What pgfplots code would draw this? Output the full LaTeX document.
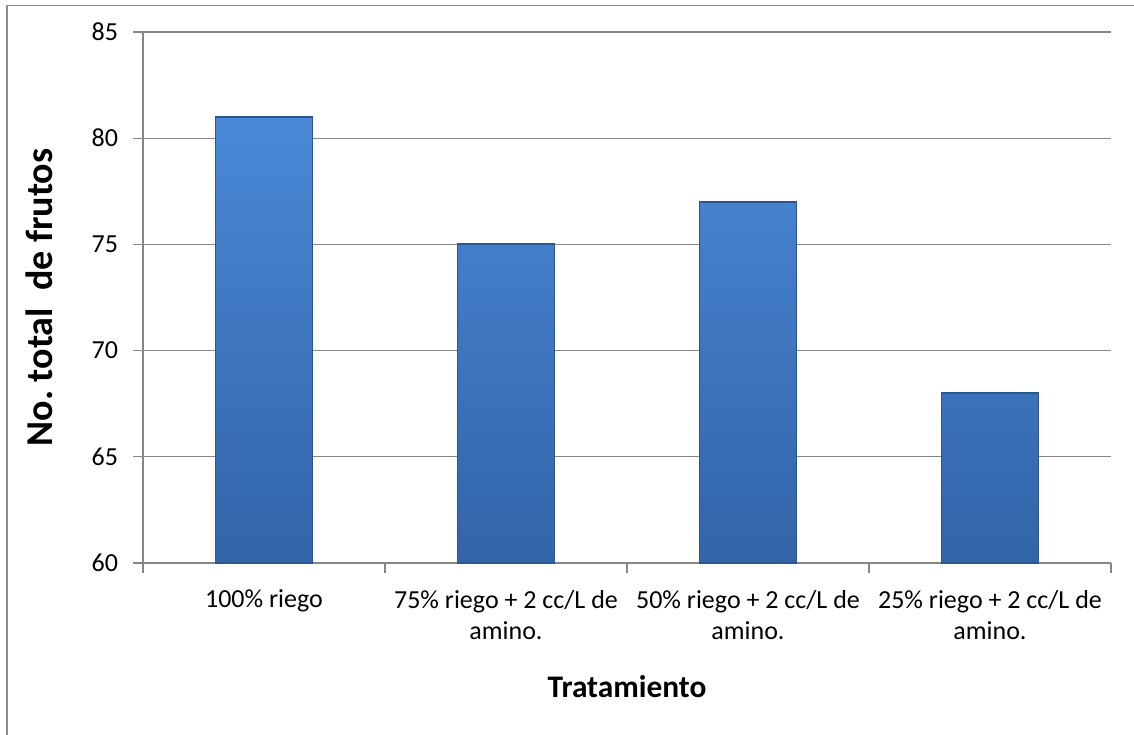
\documentclass[border=0pt]{standalone}
\usepackage{pgfplots}
\pgfplotsset{compat=1.18}
\usepackage{fontspec}
\setmainfont{Carlito}
\definecolor{gridgray}{RGB}{134,134,134}
\definecolor{framegray}{RGB}{140,140,140}
\definecolor{bartop}{RGB}{74,136,214}
\definecolor{barbot}{RGB}{50,100,168}
\definecolor{baredge}{RGB}{44,86,146}
\begin{document}
\begin{tikzpicture}
\useasboundingbox (0,0) rectangle (567pt,367pt);
\draw[framegray, line width=0.6pt] (3.5pt,-5pt) -- (3.5pt,364.3pt) -- (575pt,364.3pt);
\begin{axis}[
  at={(71.5pt,85.5pt)}, anchor=south west,
  scale only axis, width=484pt, height=265.5pt,
  xmin=0.5, xmax=4.5, ymin=0, ymax=25,
  y filter/.expression={y-60},
  ytick={0,5,...,25},
  yticklabels={60,65,70,75,80,85},
  xtick={1,2,3,4},
  xticklabels={100\% riego,{75\% riego + 2 cc/L de\\amino.},{50\% riego + 2 cc/L de\\amino.},{25\% riego + 2 cc/L de\\amino.}},
  minor xtick={0.5,1.5,2.5,3.5,4.5},
  axis x line*=bottom, axis y line*=left,
  axis line style={gridgray, line width=0.6pt, -},
  ymajorgrids, grid style={gridgray, line width=0.6pt},
  tick style={gridgray, line width=0.6pt},
  major x tick style={draw=none},
  tick align=outside,
  major tick length=5pt, minor tick length=5pt,
  /pgf/number format/assume math mode=true,
  yticklabel style={font=\fontsize{13}{16}\selectfont, text=black, anchor=east, xshift=-4pt},
  xticklabel style={font=\fontsize{13}{15.5}\selectfont, text=black, align=center, anchor=north, yshift=-5pt},
  xlabel={Tratamiento},
  xlabel style={font=\fontsize{15.7}{19}\bfseries, at={(axis description cs:0.5,-0.2524)}, anchor=base},
  ylabel={No.\ total\ \ de frutos},
  ylabel style={font=\fontsize{19}{23}\bfseries, at={(axis description cs:-0.094,0.5)}, anchor=base, rotate=0},
  ybar, bar width=48.5pt,
  clip=true,
]
\addplot[ybar, top color=bartop, bottom color=barbot, draw=baredge, line width=0.9pt] coordinates {(1,81) (2,75) (3,77) (4,68)};
\end{axis}
\end{tikzpicture}
\end{document}
